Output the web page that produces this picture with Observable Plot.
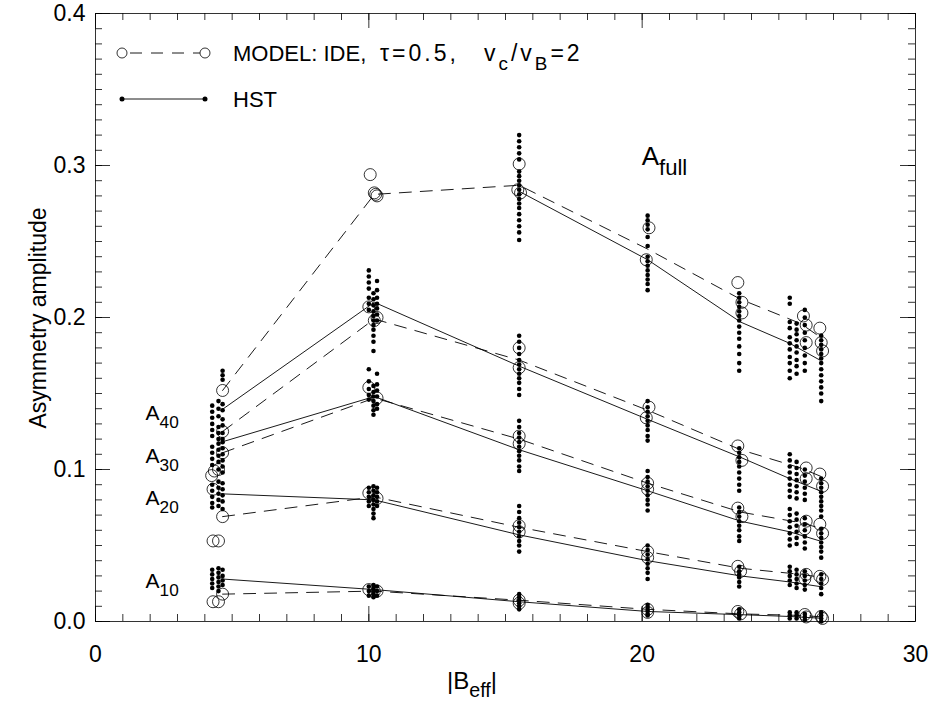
<!DOCTYPE html>
<html><head><meta charset="utf-8">
<script src="https://cdn.jsdelivr.net/npm/d3@7"></script>
<script src="https://cdn.jsdelivr.net/npm/@observablehq/plot@0.6"></script>
<style>
body{margin:0;background:#fff}
svg{font-family:"Liberation Sans",Arial,Helvetica,sans-serif}
</style>
</head><body><div id="chart"></div>
<script>
// ---------------- DATA ----------------
const xMajor = [0, 10, 20, 30];
const yMajor = [0, 0.1, 0.2, 0.3, 0.4];

// HST mean lines (solid)
const hstX    = [4.6, 10.2, 15.5, 20.2, 23.6, 25.4, 26.5];
const hstFull = [null, null, 0.283, 0.238, 0.197, 0.183, 0.172];
const hst40   = [0.139, 0.210, 0.168, 0.133, 0.108, 0.094, 0.086];
const hst30   = [0.118, 0.148, 0.113, 0.086, 0.066, 0.059, 0.053];
const hst20   = [0.084, 0.080, 0.057, 0.040, 0.030, 0.026, 0.023];
const hst10   = [0.028, 0.021, 0.013, 0.0066, 0.0045, 0.0033, 0.0022];

// Model mean lines (dashed)
const modX    = [4.65, 10.2, 15.5, 20.2, 23.6, 25.8, 26.6];
const modFull = [0.152, 0.281, 0.287, 0.245, 0.212, 0.196, 0.186];
const mod40   = [0.125, 0.199, 0.172, 0.139, 0.113, 0.101, 0.095];
const mod30   = [0.111, 0.147, 0.120, 0.091, 0.072, 0.065, 0.061];
const mod20   = [0.069, 0.082, 0.062, 0.046, 0.035, 0.031, 0.029];
const mod10   = [0.018, 0.020, 0.014, 0.008, 0.005, 0.004, 0.003];

// Model circles [x, y]
const circFull = [[4.65,0.152],[10.05,0.294],[10.2,0.282],[10.3,0.280],[10.25,0.281],[15.5,0.301],[15.45,0.284],[15.55,0.282],[20.25,0.259],[20.15,0.238],[23.5,0.223],[23.65,0.210],[23.65,0.203],[25.9,0.201],[26.0,0.195],[26.0,0.1835],[26.5,0.193],[26.55,0.1835],[26.6,0.178]];
const circ40 = [[4.25,0.096],[4.35,0.099],[4.65,0.125],[10.0,0.207],[10.2,0.198],[10.3,0.200],[15.5,0.180],[15.5,0.167],[20.25,0.141],[20.15,0.134],[23.5,0.1155],[23.65,0.106],[26.0,0.101],[26.0,0.094],[26.5,0.097],[26.6,0.089]];
const circ30 = [[4.3,0.087],[4.5,0.100],[4.65,0.111],[10.0,0.154],[10.3,0.147],[15.5,0.122],[15.5,0.117],[20.2,0.091],[20.2,0.087],[23.5,0.0746],[23.65,0.069],[26.0,0.066],[25.95,0.061],[26.5,0.064],[26.6,0.058]];
const circ20 = [[4.3,0.053],[4.5,0.053],[4.65,0.069],[10.0,0.0845],[10.3,0.081],[15.5,0.063],[15.5,0.059],[20.2,0.046],[20.2,0.042],[23.5,0.0363],[23.6,0.033],[26.0,0.031],[25.95,0.028],[26.5,0.0297],[26.6,0.0277]];
const circ10 = [[4.3,0.013],[4.5,0.013],[4.65,0.018],[10.0,0.021],[10.2,0.020],[10.3,0.020],[15.5,0.014],[15.5,0.012],[20.2,0.008],[20.2,0.006],[23.5,0.0066],[23.6,0.005],[25.95,0.0046],[26.0,0.003],[26.55,0.0033],[26.6,0.002]];

// HST individual points: [x column, [y values]]
const hstB4 = [
  [4.27, [0.142,0.138,0.134,0.130,0.126,0.122, 0.115,0.111,0.107,0.103, 0.090,0.086,0.082,0.078,0.075, 0.034,0.031,0.028,0.025,0.022]],
  [4.5,  [0.145,0.140,0.135,0.128,0.124,0.120, 0.117,0.113,0.109,0.105,0.100, 0.092,0.088,0.084,0.080,0.076, 0.035,0.032,0.029,0.026,0.023,0.020]],
  [4.65, [0.165,0.162,0.159, 0.143,0.139,0.133,0.129,0.124,0.120, 0.118,0.114,0.110,0.106,0.102,0.098, 0.091,0.087,0.083,0.079,0.074, 0.034,0.030,0.027,0.024]]
];
const hstB10 = [
  [10.0,  [0.231,0.227,0.223,0.219,0.213,0.209,0.205, 0.166,0.158,0.153,0.149,0.146, 0.088,0.085,0.082,0.079,0.076, 0.023,0.020,0.017]],
  [10.17, [0.216,0.212,0.208,0.204,0.201,0.198,0.195,0.192,0.188,0.184,0.178, 0.155,0.151,0.148,0.145,0.142,0.139,0.136, 0.089,0.086,0.083,0.080,0.077,0.074,0.071,0.068, 0.024,0.022,0.020,0.018,0.016]],
  [10.3,  [0.224,0.218,0.213,0.209,0.206,0.202,0.198, 0.163,0.156,0.152,0.148,0.143,0.140, 0.088,0.085,0.082,0.079,0.076, 0.023,0.020,0.017]]
];
const hstB15 = [
  [15.5, [0.320,0.316,0.312,0.308,0.304,0.296,0.293,0.290,0.287,0.284,0.281,0.278,0.275,0.272,0.268,0.264,0.260,0.256,0.251,
          0.188,0.184,0.180,0.176,0.172,0.169,0.166,0.163,0.160,0.157,0.153,0.149,
          0.132,0.128,0.124,0.121,0.118,0.115,0.112,0.109,0.106,0.102,0.099,
          0.076,0.072,0.068,0.065,0.062,0.059,0.056,0.053,0.050,0.046,
          0.018,0.016,0.014,0.012,0.010,0.008]]
];
const hstB20 = [
  [20.2, [0.267,0.264,0.261,0.258,0.253,0.247,0.240,0.237,0.234,0.231,0.228,0.225,0.222,0.218,
          0.145,0.141,0.138,0.135,0.132,0.129,0.126,0.122,0.119,
          0.099,0.095,0.092,0.089,0.086,0.083,0.080,0.077,0.073,
          0.050,0.047,0.044,0.041,0.038,0.035,0.032,0.028,
          0.011,0.009,0.007,0.005,0.004]]
];
const hstB23 = [
  [23.55, [0.216,0.213,0.210,0.207,0.204,0.201,0.198,0.194,0.190,0.186,0.181,0.176,0.170,0.165,
           0.114,0.111,0.108,0.105,0.102,0.098,0.094,0.090,0.086,
           0.075,0.072,0.069,0.066,0.063,0.060,0.056,0.053,
           0.036,0.033,0.031,0.029,0.026,0.023,
           0.008,0.006,0.004,0.002]]
];
const hstB25 = [
  [25.4,  [0.213,0.209,0.197,0.193,0.187,0.183,0.179,0.174,0.170,0.165,0.160, 0.110,0.106,0.102,0.098,0.094,0.090,0.086,0.082, 0.074,0.070,0.066,0.062,0.058,0.054,0.050, 0.036,0.033,0.030,0.027,0.024, 0.006,0.004,0.002]],
  [25.65, [0.196,0.192,0.189,0.185,0.181,0.177,0.172,0.168,0.163, 0.105,0.101,0.097,0.093,0.089,0.085,0.081, 0.071,0.067,0.063,0.059,0.055,0.051, 0.034,0.031,0.028,0.025,0.022, 0.006,0.004,0.002]],
  [25.95, [0.205,0.200,0.195,0.190,0.185,0.180,0.175,0.170,0.165, 0.100,0.096,0.092,0.088,0.084,0.080, 0.068,0.064,0.060,0.056,0.052,0.048, 0.033,0.030,0.027,0.024,0.021, 0.005,0.003,0.001]]
];
const hstB26 = [
  [26.55, [0.188,0.185,0.182,0.179,0.176,0.173,0.170,0.166,0.162,0.158,0.154,0.150,0.145,
           0.094,0.091,0.088,0.085,0.082,0.079,0.076,0.073,0.069,
           0.061,0.058,0.055,0.052,0.049,0.046,0.042,
           0.031,0.028,0.025,0.022,0.018,
           0.006,0.004,0.002,0.000]]
];

// ---------------- BUILD TABLES ----------------
const toRows = (xs, ys, s) => xs.map((x, i) => ({x, y: ys[i], s})).filter(d => d.y != null);
const solidRows = [
  ...toRows(hstX, hstFull, "full"), ...toRows(hstX, hst40, "40"), ...toRows(hstX, hst30, "30"),
  ...toRows(hstX, hst20, "20"), ...toRows(hstX, hst10, "10")
];
const dashedRows = [
  ...toRows(modX, modFull, "full"), ...toRows(modX, mod40, "40"), ...toRows(modX, mod30, "30"),
  ...toRows(modX, mod20, "20"), ...toRows(modX, mod10, "10")
];
const circleRows = [circFull, circ40, circ30, circ20, circ10].flat().map(([x, y]) => ({x, y}));
const dotRows = [hstB4, hstB10, hstB15, hstB20, hstB23, hstB25, hstB26]
  .flat().flatMap(([x, ys]) => ys.map(y => ({x, y})));

// ---------------- PLOT ----------------
const W = 933, H = 707, mL = 95, mR = 18, mT = 13, mB = 86;
const innerW = W - mL - mR, innerH = H - mT - mB;
const xMinor = d3.range(0, 31);
const yMinor = d3.range(0, 41).map(i => i / 100);
const majLen = 15, minLen = 7;
const ink = "#000";

const plot = Plot.plot({
  width: W, height: H,
  marginLeft: mL, marginRight: mR, marginTop: mT, marginBottom: mB,
  style: {fontFamily: '"Liberation Sans", Arial, sans-serif', fontSize: "23px", color: "#000", background: "#fff"},
  x: {domain: [0, 30]},
  y: {domain: [0, 0.4]},
  marks: [
    Plot.frame({stroke: "#333", strokeWidth: 1}),
    // ticks, all four sides, inward
    Plot.tickX(xMinor, {x: d => d, insetTop: innerH - minLen, stroke: ink, strokeWidth: 0.8}),
    Plot.tickX(xMinor, {x: d => d, insetBottom: innerH - minLen, stroke: ink, strokeWidth: 0.8}),
    Plot.tickX(xMajor, {x: d => d, insetTop: innerH - majLen, stroke: ink, strokeWidth: 0.8}),
    Plot.tickX(xMajor, {x: d => d, insetBottom: innerH - majLen, stroke: ink, strokeWidth: 0.8}),
    Plot.tickY(yMinor, {y: d => d, insetRight: innerW - minLen, stroke: ink, strokeWidth: 0.8}),
    Plot.tickY(yMinor, {y: d => d, insetLeft: innerW - minLen, stroke: ink, strokeWidth: 0.8}),
    Plot.tickY(yMajor, {y: d => d, insetRight: innerW - majLen, stroke: ink, strokeWidth: 0.8}),
    Plot.tickY(yMajor, {y: d => d, insetLeft: innerW - majLen, stroke: ink, strokeWidth: 0.8}),
    Plot.axisX({ticks: xMajor, tickSize: 0, tickPadding: 24, label: null, tickFormat: d3.format("d")}),
    Plot.axisY({ticks: yMajor, tickSize: 0, tickPadding: 10, label: null, tickFormat: d3.format(".1f")}),
    // data
    Plot.line(dashedRows, {x: "x", y: "y", z: "s", stroke: ink, strokeWidth: 0.9, strokeDasharray: "12,9"}),
    Plot.line(solidRows, {x: "x", y: "y", z: "s", stroke: ink, strokeWidth: 0.9}),
    Plot.dot(circleRows, {x: "x", y: "y", r: 6, stroke: ink, strokeWidth: 0.8, fill: "none"}),
    Plot.dot(dotRows, {x: "x", y: "y", r: 2.3, fill: ink, stroke: "none"})
  ]
});
document.getElementById("chart").appendChild(plot);

// ---------------- TEXT / LEGEND ----------------
const svg = d3.select(plot);
const sx = plot.scale("x").apply, sy = plot.scale("y").apply;
const g = svg.append("g").attr("fill", ink).style("font-family", '"Liberation Sans", Arial, sans-serif');

function rich(x, y, parts, size, anchor = "start", opts = {}) {
  const t = g.append("text").attr("font-size", size).attr("text-anchor", anchor).style("white-space", "pre");
  if (opts.rotate) t.attr("transform", `translate(${x},${y}) rotate(-90)`);
  else t.attr("x", x).attr("y", y);
  if (opts.spacing) t.attr("letter-spacing", opts.spacing);
  const subShift = opts.subShift ?? 0.38, subScale = opts.subScale ?? 0.82;
  let shifted = 0;
  for (const p of parts) {
    const ts = t.append("tspan").text(p.t);
    const want = p.sub ? size * subShift : 0;
    if (want !== shifted) { ts.attr("dy", want - shifted); shifted = want; }
    if (p.sub) ts.attr("font-size", size * subScale);
  }
  return t;
}

// axis titles
rich(472, 689, [{t: "|B"}, {t: "eff", sub: true}, {t: "|"}], 24, "middle", {subShift: 0.32});
rich(46, 318, [{t: "Asymmetry amplitude"}], 23, "middle", {rotate: true});

// curve labels
rich(sx(20.0), sy(0.300), [{t: "A"}, {t: "full", sub: true}], 26, "start", {subScale: 0.85});
rich(sx(1.85), sy(0.1325), [{t: "A"}, {t: "40", sub: true}], 21);
rich(sx(1.85), sy(0.104), [{t: "A"}, {t: "30", sub: true}], 21);
rich(sx(1.85), sy(0.076), [{t: "A"}, {t: "20", sub: true}], 21);
rich(sx(1.85), sy(0.022), [{t: "A"}, {t: "10", sub: true}], 21);

// legend
const lx1 = 122, lx2 = 205, ly1 = 53, ly2 = 99;
g.append("line").attr("x1", lx1 + 5).attr("x2", lx2 - 5).attr("y1", ly1).attr("y2", ly1)
  .attr("stroke", ink).attr("stroke-width", 0.9).attr("stroke-dasharray", "12,9").attr("stroke-dashoffset", -3);
[lx1, lx2].forEach(x => g.append("circle").attr("cx", x).attr("cy", ly1).attr("r", 5)
  .attr("fill", "none").attr("stroke", ink).attr("stroke-width", 0.8));
g.append("line").attr("x1", lx1).attr("x2", lx2).attr("y1", ly2).attr("y2", ly2)
  .attr("stroke", ink).attr("stroke-width", 0.9);
[lx1, lx2].forEach(x => g.append("circle").attr("cx", x).attr("cy", ly2).attr("r", 2.5).attr("fill", ink));
rich(233, ly1 + 8, [{t: "MODEL: IDE,"}], 22);
rich(380, ly1 + 8, [{t: "τ=0.5,"}], 23, "start", {spacing: 3});
rich(484, ly1 + 8, [{t: "v"}, {t: "c", sub: true}, {t: "/v"}, {t: "B", sub: true}, {t: "=2"}], 23, "start", {spacing: 3});
rich(233, ly2 + 8, [{t: "HST"}], 22);
</script></body></html>
